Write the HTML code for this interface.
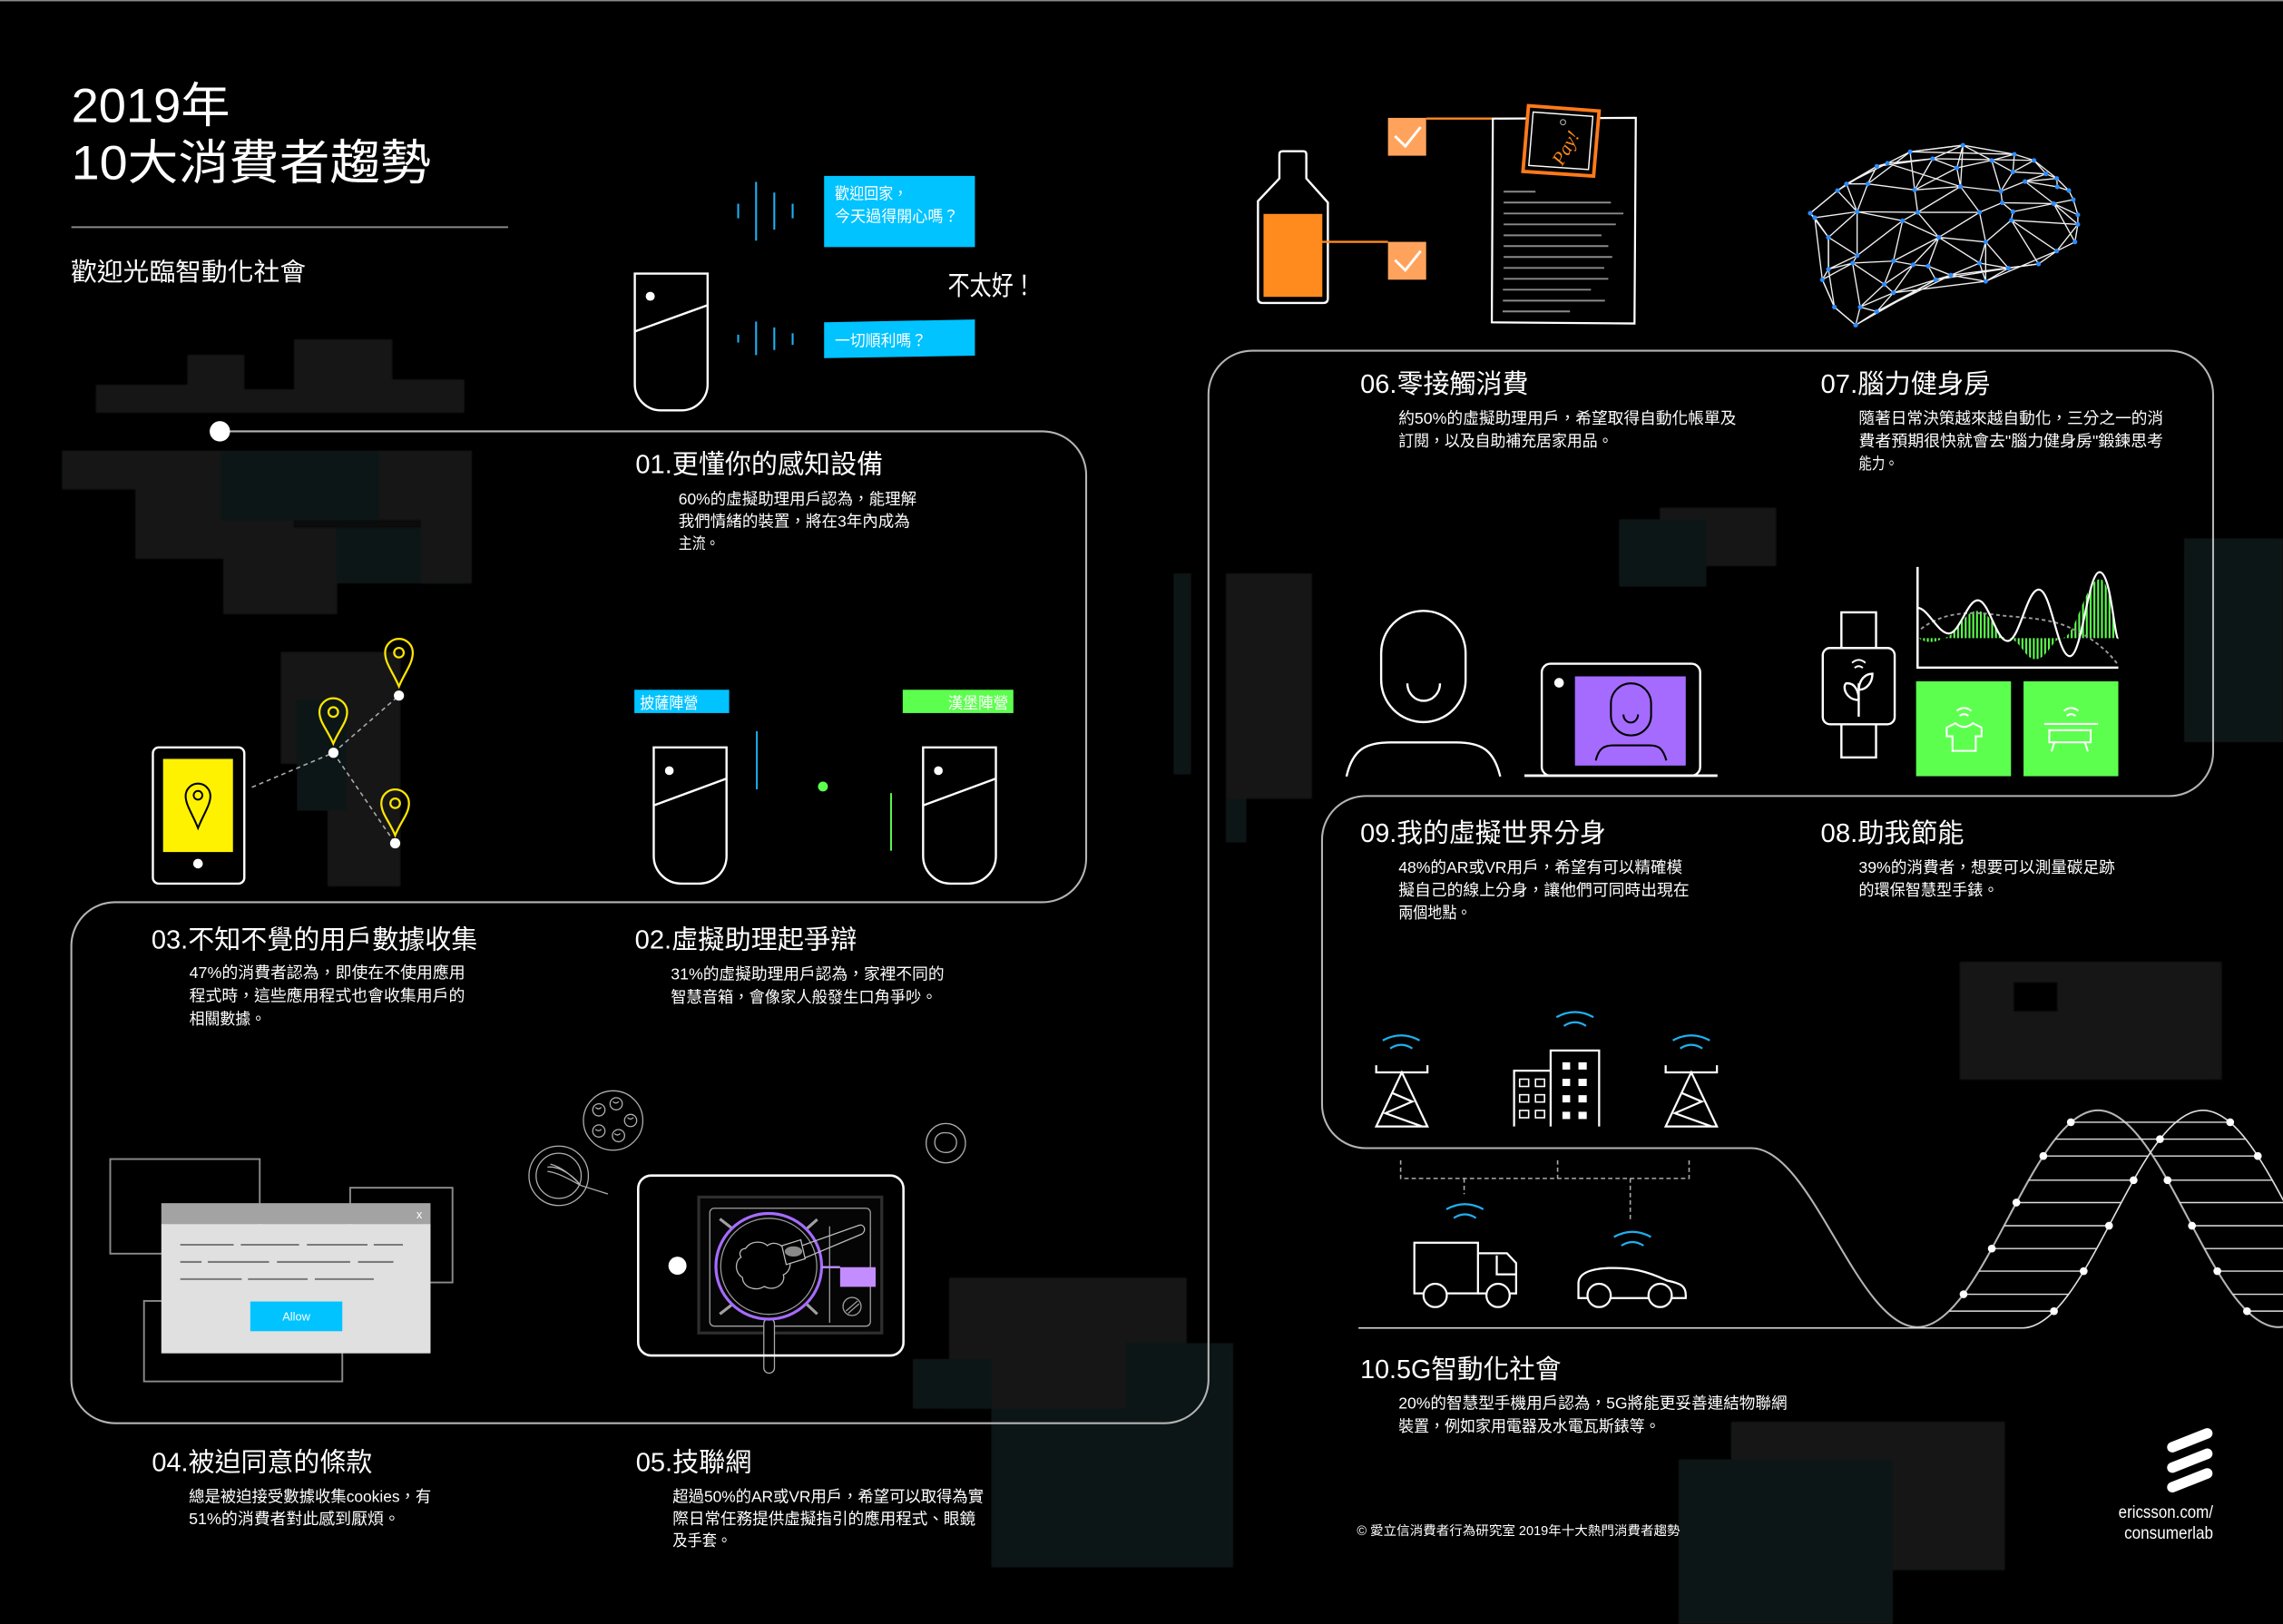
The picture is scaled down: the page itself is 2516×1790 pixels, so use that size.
<!DOCTYPE html>
<html><head><meta charset="utf-8">
<style>
html,body{margin:0;padding:0;background:#000;overflow:hidden;}
svg{display:block;}
text{font-family:"Liberation Sans","Noto Sans CJK TC",sans-serif;fill:#fff;}
</style></head><body>
<svg xmlns="http://www.w3.org/2000/svg" width="2516" height="1790" viewBox="0 0 1568 1116" preserveAspectRatio="none">
<defs>
<filter id="halo" x="-30%" y="-30%" width="160%" height="160%"><feGaussianBlur stdDeviation="5"/></filter>
<filter id="soft" x="-10%" y="-10%" width="120%" height="120%"><feGaussianBlur stdDeviation="0.6"/></filter>
<pattern id="gs" width="2.6" height="20" patternUnits="userSpaceOnUse"><rect width="1.3" height="20" fill="#5dff4f"/></pattern>
<g id="blobs">
<rect x="65.9" y="264.4" width="62.9" height="19.3"/>
<rect x="128.8" y="243.8" width="39" height="39.9"/>
<rect x="202" y="233.2" width="67.4" height="50.5"/>
<rect x="167.8" y="267.5" width="76" height="16.2"/>
<rect x="269.4" y="260.8" width="49.5" height="22.9"/>
<rect x="42.6" y="309.7" width="109" height="26.6"/>
<rect x="151.6" y="309.7" width="109" height="48"/>
<rect x="260.7" y="309.7" width="63.3" height="47.9"/>
<rect x="93" y="336.3" width="109" height="47.7"/>
<rect x="289" y="347" width="35" height="54"/>
<rect x="153.3" y="362.6" width="78.3" height="59.4"/>
<rect x="231" y="362.6" width="60" height="38.4"/>
<rect x="193" y="448" width="82" height="77"/>
<rect x="225" y="524" width="50" height="85"/>
<rect x="204" y="481" width="34" height="76"/>
<rect x="842" y="394" width="59" height="155"/>
<rect x="806" y="394" width="12" height="138"/>
<rect x="842" y="549" width="14" height="30"/>
<rect x="1140" y="349" width="80" height="40"/>
<rect x="1112" y="357" width="60" height="46"/>
<rect x="1500" y="370" width="68" height="140"/>
<rect x="1346" y="661" width="180" height="81"/>
<rect x="1189" y="977" width="188" height="102"/>
<rect x="1153" y="1003" width="147" height="113"/>
<rect x="652" y="878" width="163" height="90"/>
<rect x="627" y="934" width="54" height="34"/>
<rect x="681" y="968" width="166" height="109"/>
<rect x="773" y="923" width="74" height="60"/>
</g>
</defs>
<rect width="1568" height="1116" fill="#000"/>
<rect width="1568" height="0.9" fill="#8a8a8a"/>

<!-- background pixel blobs -->
<use href="#blobs" fill="#0c0d0d" filter="url(#halo)"/>
<g filter="url(#soft)">
<g fill="#131618">
<rect x="65.9" y="264.4" width="62.9" height="19.3"/>
<rect x="128.8" y="243.8" width="39" height="39.9"/>
<rect x="202" y="233.2" width="67.4" height="50.5"/>
<rect x="167.8" y="267.5" width="76" height="16.2"/>
<rect x="269.4" y="260.8" width="49.5" height="22.9"/>
<rect x="42.6" y="309.7" width="109" height="26.6"/>
<rect x="260.7" y="309.7" width="63.3" height="47.9"/>
<rect x="93" y="336.3" width="109" height="47.7"/>
<rect x="289" y="347" width="35" height="54"/>
<rect x="153.3" y="362.6" width="78.3" height="59.4"/>
<rect x="193" y="448" width="82" height="77"/>
<rect x="225" y="524" width="50" height="85"/>
<rect x="842" y="394" width="59" height="155"/>
<rect x="1140" y="349" width="80" height="40"/>
<rect x="1346" y="661" width="180" height="81"/>
<rect x="1189" y="977" width="188" height="102"/>
<rect x="652" y="878" width="163" height="90"/>
</g>
<g fill="#0f1213">
<rect x="151.6" y="309.7" width="109" height="48"/>
<rect x="231" y="362.6" width="58" height="38.4"/>
<rect x="204" y="481" width="34" height="76"/>
<rect x="806" y="394" width="12" height="138"/>
<rect x="842" y="549" width="14" height="30"/>
<rect x="1112" y="357" width="60" height="46"/>
<rect x="1500" y="370" width="68" height="140"/>
<rect x="1153" y="1003" width="147" height="113"/>
<rect x="627" y="934" width="54" height="34"/>
<rect x="681" y="968" width="166" height="109"/>
<rect x="773" y="923" width="74" height="60"/>
</g>
<rect x="1383" y="675" width="30" height="20" fill="#050606"/>
</g>

<!-- main outline -->
<path d="M151,296.4 H716 A30,30 0 0 1 746,326.4 V590 A30,30 0 0 1 716,620 H79 A30,30 0 0 0 49,650 V948 A30,30 0 0 0 79,978 H800 A30,30 0 0 0 830,948 V271 A30,30 0 0 1 860,241 H1490 A30,30 0 0 1 1520,271 V517 A30,30 0 0 1 1490,547 H938 A30,30 0 0 0 908,577 V759 A30,30 0 0 0 938,789 H1203 C1244.4,789 1275.6,912 1317,912 C1362.1,912 1395.9,763 1441,763 C1486.1,763 1519.9,912 1565,912 C1610,912 1644,763 1689,763" fill="none" stroke="#b4b4b4" stroke-width="1.3"/>
<circle cx="151" cy="296.4" r="7" fill="#fff"/>
<path d="M933,912.6 H1389 C1434.1,912 1467.9,763 1513,763 C1558.1,763 1591.9,912 1637,912" fill="none" stroke="#e0e0e0" stroke-width="1"/>
<g stroke="#e0e0e0" stroke-width="0.9">
<line x1="1422.3" y1="771.2" x2="1531.7" y2="771.2"/>
<line x1="1411.5" y1="782.8" x2="1542.5" y2="782.8"/>
<line x1="1403.4" y1="794.4" x2="1475.4" y2="794.4"/><line x1="1478.7" y1="794.4" x2="1550.7" y2="794.4"/>
<line x1="1393.4" y1="811" x2="1465.4" y2="811"/><line x1="1488.7" y1="811" x2="1560.7" y2="811"/>
<line x1="1384.9" y1="826.4" x2="1456.9" y2="826.4"/><line x1="1497.1" y1="826.4" x2="1568" y2="826.4"/>
<line x1="1376.5" y1="842.3" x2="1448.5" y2="842.3"/><line x1="1505.5" y1="842.3" x2="1568" y2="842.3"/>
<line x1="1368" y1="858" x2="1440" y2="858"/><line x1="1514" y1="858" x2="1568" y2="858"/>
<line x1="1359.1" y1="873.5" x2="1431.1" y2="873.5"/><line x1="1522.9" y1="873.5" x2="1568" y2="873.5"/>
<line x1="1348.6" y1="889.4" x2="1420.6" y2="889.4"/><line x1="1533.4" y1="889.4" x2="1568" y2="889.4"/>
<line x1="1338.7" y1="901" x2="1410.7" y2="901"/><line x1="1543.3" y1="901" x2="1568" y2="901"/>
</g>
<g fill="#fff">
<circle cx="1348.6" cy="889.4" r="2.7"/><circle cx="1368" cy="858" r="2.7"/><circle cx="1384.9" cy="826.4" r="2.7"/><circle cx="1403.4" cy="794.4" r="2.7"/><circle cx="1422.3" cy="771.2" r="2.7"/>
<circle cx="1410.7" cy="901" r="2.7"/><circle cx="1431.1" cy="873.5" r="2.7"/><circle cx="1448.5" cy="842.3" r="2.7"/><circle cx="1465.4" cy="811" r="2.7"/><circle cx="1483.5" cy="782.8" r="2.7"/>
<circle cx="1531.7" cy="771.2" r="2.7"/><circle cx="1550.7" cy="794.4" r="2.7"/>
<circle cx="1488.7" cy="811" r="2.7"/><circle cx="1505.5" cy="842.3" r="2.7"/><circle cx="1522.9" cy="873.5" r="2.7"/><circle cx="1543.3" cy="901" r="2.7"/>
</g>

<!-- TITLE -->
<text x="49" y="84" font-size="33" textLength="109" lengthAdjust="spacingAndGlyphs">2019年</text>
<text x="49" y="123" font-size="33" textLength="247" lengthAdjust="spacingAndGlyphs">10大消費者趨勢</text>
<rect x="49" y="155.5" width="300" height="1.2" fill="#8c8c8c"/>
<text x="48.6" y="192.5" font-size="17" textLength="161.5" lengthAdjust="spacingAndGlyphs">歡迎光臨智動化社會</text>

<!-- top speaker + bubbles -->
<path d="M436,188 H486 V264 A18,18 0 0 1 468,282 H454 A18,18 0 0 1 436,264 Z" fill="none" stroke="#fff" stroke-width="1.5"/>
<circle cx="446.6" cy="203.6" r="3.1" fill="#fff"/>
<line x1="436" y1="227.8" x2="486" y2="209.7" stroke="#fff" stroke-width="1.5"/>
<g stroke="#1fb0f0" stroke-width="1.3">
<line x1="507" y1="140" x2="507" y2="150"/><line x1="519.3" y1="125" x2="519.3" y2="165.4"/><line x1="531.8" y1="132.3" x2="531.8" y2="157.8"/><line x1="544.4" y1="140" x2="544.4" y2="150"/>
<line x1="507" y1="230" x2="507" y2="235.4"/><line x1="519.3" y1="221" x2="519.3" y2="244"/><line x1="531.8" y1="225" x2="531.8" y2="240.5"/><line x1="544.4" y1="229" x2="544.4" y2="237"/>
</g>
<rect x="566" y="120.9" width="103.6" height="48.9" fill="#00c3ff"/>
<text x="573.4" y="137" font-size="11" textLength="50" lengthAdjust="spacingAndGlyphs">歡迎回家，</text>
<text x="573.4" y="152.3" font-size="11" textLength="85" lengthAdjust="spacingAndGlyphs">今天過得開心嗎？</text>
<polygon points="566,221.5 669.6,219.5 669.6,244.4 566,246.1" fill="#00c3ff"/>
<text x="573.4" y="238" font-size="11" textLength="63" lengthAdjust="spacingAndGlyphs">一切順利嗎？</text>
<text x="651" y="202.5" font-size="18.5" textLength="60" lengthAdjust="spacingAndGlyphs">不太好！</text>

<!-- 01 -->
<text x="436.5" y="325" font-size="18" textLength="170" lengthAdjust="spacingAndGlyphs">01.更懂你的感知設備</text>
<text x="466" y="346.6" font-size="11" textLength="163.5" lengthAdjust="spacingAndGlyphs">60%的虛擬助理用戶認為，能理解</text>
<text x="466" y="362" font-size="11" textLength="159" lengthAdjust="spacingAndGlyphs">我們情緒的裝置，將在3年內成為</text>
<text x="466" y="377.3" font-size="11" textLength="28" lengthAdjust="spacingAndGlyphs">主流。</text>

<!-- phone + pins -->
<rect x="105" y="513.6" width="62.8" height="93.6" rx="4" fill="#000" stroke="#fff" stroke-width="1.5"/>
<rect x="112" y="521.5" width="48" height="64" fill="#fff200"/>
<circle cx="136" cy="593.5" r="3.3" fill="#fff"/>
<path d="M136,569 C132,559 127.5,553 127.5,547 A8.5,8.5 0 0 1 144.5,547 C144.5,553 140,559 136,569 Z" fill="none" stroke="#000" stroke-width="1.3"/>
<circle cx="136" cy="546.5" r="3" fill="none" stroke="#000" stroke-width="1.2"/>
<g stroke="#aaa" stroke-width="1" stroke-dasharray="3 2.5" fill="none">
<line x1="173" y1="541" x2="229" y2="517.3"/><line x1="229" y1="517.3" x2="274" y2="478"/><line x1="229" y1="517.3" x2="271.4" y2="579.5"/>
</g>
<g fill="none" stroke="#ffe600" stroke-width="1.4">
<path d="M274,471.7 C270,462 264.5,456 264.5,448.5 A9.5,9.5 0 0 1 283.5,448.5 C283.5,456 278,462 274,471.7 Z"/><circle cx="274" cy="448.5" r="3.3"/>
<path d="M228.9,511 C224.9,501.3 219.4,496.3 219.4,489.3 A9.5,9.5 0 0 1 238.4,489.3 C238.4,496.3 232.9,501.3 228.9,511 Z"/><circle cx="228.9" cy="489.3" r="3.3"/>
<path d="M271.4,574 C267.4,564.3 261.9,559 261.9,552 A9.5,9.5 0 0 1 280.9,552 C280.9,559 275.4,564.3 271.4,574 Z"/><circle cx="271.4" cy="552" r="3.3"/>
</g>
<g fill="#fff"><circle cx="274" cy="478" r="3.5"/><circle cx="229" cy="517.3" r="3.5"/><circle cx="271.4" cy="579.5" r="3.5"/></g>

<!-- 02 illustration -->
<rect x="435.7" y="474" width="65.1" height="16" fill="#00c3ff"/>
<text x="439.5" y="487" font-size="11" textLength="40" lengthAdjust="spacingAndGlyphs">披薩陣營</text>
<rect x="620" y="474" width="76" height="16" fill="#5dff4f"/>
<text x="651" y="487" font-size="11" textLength="41.6" lengthAdjust="spacingAndGlyphs">漢堡陣營</text>
<g fill="none" stroke="#fff" stroke-width="1.5">
<path d="M449,513.6 H499 V588 A19,19 0 0 1 480,607.2 H468 A19,19 0 0 1 449,588 Z"/>
<line x1="449" y1="553.5" x2="499" y2="535"/>
<path d="M634,513.6 H684 V588 A19,19 0 0 1 665,607.2 H653 A19,19 0 0 1 634,588 Z"/>
<line x1="634" y1="553.5" x2="684" y2="535"/>
</g>
<circle cx="459.7" cy="529.6" r="3" fill="#fff"/>
<circle cx="644.5" cy="529.6" r="3" fill="#fff"/>
<line x1="519.8" y1="502.5" x2="519.8" y2="542.4" stroke="#1fb0f0" stroke-width="1.2"/>
<circle cx="565.2" cy="540.5" r="3.4" fill="#5dff4f"/>
<line x1="612" y1="545" x2="612" y2="584.6" stroke="#5dff4f" stroke-width="1.2"/>

<!-- 03 / 02 texts -->
<text x="104" y="651.8" font-size="18" textLength="224" lengthAdjust="spacingAndGlyphs">03.不知不覺的用戶數據收集</text>
<text x="130" y="672" font-size="11" textLength="189.5" lengthAdjust="spacingAndGlyphs">47%的消費者認為，即使在不使用應用</text>
<text x="130" y="688" font-size="11" textLength="189.3" lengthAdjust="spacingAndGlyphs">程式時，這些應用程式也會收集用戶的</text>
<text x="130" y="704" font-size="11" textLength="52.6" lengthAdjust="spacingAndGlyphs">相關數據。</text>
<text x="436" y="651.8" font-size="18" textLength="152.5" lengthAdjust="spacingAndGlyphs">02.虛擬助理起爭辯</text>
<text x="460.7" y="673" font-size="11" textLength="187.8" lengthAdjust="spacingAndGlyphs">31%的虛擬助理用戶認為，家裡不同的</text>
<text x="460.7" y="689" font-size="11" textLength="182.9" lengthAdjust="spacingAndGlyphs">智慧音箱，會像家人般發生口角爭吵。</text>

<!-- 04 dialog -->
<g fill="none" stroke="#8a8a8a" stroke-width="1.2">
<rect x="75.7" y="796.5" width="102.7" height="65"/>
<rect x="240.5" y="816.2" width="70.3" height="65.1"/>
<rect x="98.9" y="894" width="136.2" height="55.3"/>
</g>
<rect x="110.8" y="826.8" width="184.9" height="14.3" fill="#a3a3a3"/>
<rect x="110.8" y="841.1" width="184.9" height="88.9" fill="#e0e0e0"/>
<text x="286" y="837.2" font-size="8">x</text>
<g stroke="#7a7a7a" stroke-width="1.3">
<line x1="123.8" y1="855.4" x2="160.5" y2="855.4"/><line x1="165.4" y1="855.4" x2="205.4" y2="855.4"/><line x1="210.8" y1="855.4" x2="252.4" y2="855.4"/><line x1="256.7" y1="855.4" x2="276.7" y2="855.4"/>
<line x1="123.8" y1="867.2" x2="138.4" y2="867.2"/><line x1="142.7" y1="867.2" x2="184.8" y2="867.2"/><line x1="190.2" y1="867.2" x2="240.5" y2="867.2"/><line x1="245.9" y1="867.2" x2="270.2" y2="867.2"/>
<line x1="123.8" y1="879" x2="166" y2="879"/><line x1="170.3" y1="879" x2="211.3" y2="879"/><line x1="216.2" y1="879" x2="256.7" y2="879"/>
</g>
<rect x="171.9" y="894.4" width="63.2" height="20.4" fill="#00c3ff"/>
<text x="203.5" y="907.5" font-size="8" text-anchor="middle">Allow</text>

<!-- 05 cooking -->
<g fill="none" stroke="#b0b0b0" stroke-width="0.8">
<circle cx="421.1" cy="770" r="20.4"/>
<circle cx="411.3" cy="762.7" r="4.2"/><circle cx="423.2" cy="758.5" r="4.2"/><circle cx="433.1" cy="770" r="4.2"/><circle cx="411.3" cy="777.2" r="4.2"/><circle cx="424.8" cy="780.4" r="4.2"/>
<path d="M409,761 q2,2 4,0 M421,757 q2,2 4,0 M431,768 q2,2 4,0 M409,776 q2,2 4,0 M422,779 q2,2 4,0"/>
<circle cx="383.7" cy="808" r="20.4"/>
<circle cx="383.7" cy="808" r="15.5"/>
<path d="M376,802 C384,801 394,808 398.8,814.6 M376,805 C384,806 392,811 398.8,814.6 M378,800 C386,802 394,809 398.8,814.6 M398.8,814.6 L417.5,820.5"/>
<circle cx="649.6" cy="785.6" r="13.5"/>
<path d="M642,785 C642,780 646,778 650,778.5 C654,778.5 657,781 657,785 C657,789 654,792 650,792 C646,792 642,790 642,785 Z"/>
</g>
<rect x="438.3" y="807.8" width="182.2" height="123.7" rx="9" fill="#000"/>
<rect x="479.9" y="822.6" width="125.7" height="93.4" fill="#050505" stroke="#2e2e2e" stroke-width="2"/>
<g fill="none" stroke="#a0a0a0" stroke-width="0.8">
<rect x="487.5" y="830.3" width="110.3" height="81" rx="3"/>
<line x1="569.8" y1="842.7" x2="569.8" y2="909"/>
<line x1="494.4" y1="837.6" x2="503.7" y2="844.8" stroke-width="2"/>
<line x1="561.3" y1="838" x2="553.6" y2="844.8" stroke-width="2"/>
<line x1="494.4" y1="903" x2="503.7" y2="895.8" stroke-width="2"/>
<line x1="561.3" y1="903" x2="553.6" y2="895.8" stroke-width="2"/>
<circle cx="585.2" cy="897.8" r="6.2"/>
<line x1="581" y1="901" x2="589" y2="894"/><line x1="582.5" y1="902.5" x2="590" y2="896"/>
</g>
<rect x="524.6" y="906" width="7.3" height="37.6" rx="3.6" fill="#000" stroke="#aaa" stroke-width="0.8"/>
<circle cx="528" cy="870.2" r="36.3" fill="#000" stroke="#a66bff" stroke-width="2"/>
<circle cx="528" cy="870.2" r="33" fill="none" stroke="#999" stroke-width="0.8"/>
<path d="M512,858 C516,852 524,853 527,856 C532,852 540,856 539,862 C545,866 543,874 538,876 C540,882 532,888 525,884 C518,888 510,884 510,878 C504,874 505,866 509,864 C507,861 509,858 512,858 Z" fill="none" stroke="#bbb" stroke-width="0.8"/>
<path d="M545,858 L590,842 C594,841 595,846 592,848 L549,866" fill="none" stroke="#bbb" stroke-width="0.8"/>
<path d="M537,856 L550,852 L553,865 L540,869 Z" fill="#000" stroke="#bbb" stroke-width="0.8"/>
<ellipse cx="545" cy="860" rx="6" ry="3.5" fill="#888"/>
<line x1="564.5" y1="870.8" x2="577" y2="870.8" stroke="#c38dff" stroke-width="1.5"/>
<rect x="577" y="870.8" width="24.4" height="13.5" fill="#c38dff"/>
<rect x="438.3" y="807.8" width="182.2" height="123.7" rx="9" fill="none" stroke="#fff" stroke-width="1.6"/>
<circle cx="465.3" cy="869.8" r="6.2" fill="#fff"/>

<!-- 04 / 05 texts -->
<text x="104.3" y="1011" font-size="18" textLength="151.4" lengthAdjust="spacingAndGlyphs">04.被迫同意的條款</text>
<text x="129.7" y="1032" font-size="11" textLength="166.5" lengthAdjust="spacingAndGlyphs">總是被迫接受數據收集cookies，有</text>
<text x="129.7" y="1047.3" font-size="11" textLength="145" lengthAdjust="spacingAndGlyphs">51%的消費者對此感到厭煩。</text>
<text x="436.7" y="1011" font-size="18" textLength="79.5" lengthAdjust="spacingAndGlyphs">05.技聯網</text>
<text x="462" y="1032" font-size="11" textLength="213.6" lengthAdjust="spacingAndGlyphs">超過50%的AR或VR用戶，希望可以取得為實</text>
<text x="462" y="1047.3" font-size="11" textLength="208" lengthAdjust="spacingAndGlyphs">際日常任務提供虛擬指引的應用程式、眼鏡</text>
<text x="462" y="1062.5" font-size="11" textLength="40.5" lengthAdjust="spacingAndGlyphs">及手套。</text>

<!-- bottle, checkboxes, document -->
<path d="M878.7,122.6 V106 Q878.7,103.9 881,103.9 H895 Q897.2,103.9 897.2,106 V122.6 L912,139.2 V205 Q912,208.2 909,208.2 H867 Q864,208.2 864,205 V138.2 Z" fill="none" stroke="#fff" stroke-width="1.5"/>
<rect x="867.8" y="147" width="40.4" height="57" fill="#ff8a1e"/>
<line x1="908" y1="166.2" x2="953.3" y2="166.2" stroke="#ff8a1e" stroke-width="1.5"/>
<line x1="979.5" y1="81.5" x2="1048.4" y2="81.5" stroke="#ff8a1e" stroke-width="1.5"/>
<rect x="953.3" y="81" width="26.2" height="26" fill="#ffa35c"/>
<rect x="953.3" y="166.2" width="26.2" height="26" fill="#ffa35c"/>
<polyline points="958.1,93.5 965.2,100.5 975.7,87.3" fill="none" stroke="#fff" stroke-width="1.8"/>
<polyline points="958.1,178.7 965.2,185.7 975.7,172.5" fill="none" stroke="#fff" stroke-width="1.8"/>
<polygon points="1025.3,81.5 1123.5,81 1122.6,222.3 1024.6,221.5" fill="#000" stroke="#fff" stroke-width="1.4"/>
<g stroke="#8a8a8a" stroke-width="1.2">
<line x1="1032.7" y1="131.7" x2="1054.6" y2="131.7"/><line x1="1032.7" y1="139.2" x2="1106.4" y2="139.2"/><line x1="1032.7" y1="146.7" x2="1115" y2="146.7"/><line x1="1032.7" y1="154.2" x2="1109.8" y2="154.2"/><line x1="1032.7" y1="161.7" x2="1099.9" y2="161.7"/><line x1="1032.7" y1="169.1" x2="1104.6" y2="169.1"/><line x1="1032.7" y1="176.6" x2="1107.3" y2="176.6"/><line x1="1032.7" y1="184.1" x2="1101.8" y2="184.1"/><line x1="1032.7" y1="191.6" x2="1104.6" y2="191.6"/><line x1="1032.2" y1="199.1" x2="1092.7" y2="199.1"/><line x1="1032.2" y1="206.6" x2="1102.3" y2="206.6"/><line x1="1032" y1="214" x2="1078.3" y2="214"/>
</g>
<polygon points="1049.8,72.7 1098.3,76.3 1094.5,121 1046,117.8" fill="#000" stroke="#ff7a1a" stroke-width="2.4"/>
<polygon points="1053,77 1094,80 1091,116.5 1050,113.7" fill="none" stroke="#fff" stroke-width="0.9"/>
<circle cx="1073.5" cy="84" r="1.8" fill="none" stroke="#aaa" stroke-width="0.7"/>
<text x="1060" y="108" font-size="13" font-style="italic" style="font-family:'Liberation Serif',serif;fill:#ff8a1e" transform="rotate(-60 1072 100)">Pay!</text>

<!-- brain mesh -->
<g fill="none" stroke="#f0f0f0" stroke-width="0.85" stroke-linejoin="round">
<polygon points="1243.3,146.5 1262,131 1268.2,126.4 1289,114.3 1296.3,112.2 1311.9,104.3 1348.2,99.8 1383.5,106 1397,110.2 1412.6,122.6 1420.9,131 1424,137.2 1427.1,147.6 1427.1,154.2 1425.1,166.3 1412.6,172.5 1400.1,181.4 1379.4,184.3 1363.8,193.3 1339.9,189.1 1329.5,192.2 1300.4,201.2 1289,214.1 1274.5,223.4 1259.9,211 1251.6,192.2 1255.8,185 1255.8,163.1 1246.4,149.6"/>
<path d="M1268.2,126.4 L1296.3,112.2 M1282.8,126.4 L1311.9,104.3 M1289,114.3 L1327.4,109.1 M1296.3,112.2 L1327.4,109.1 M1311.9,104.3 L1348.2,99.8 M1327.4,109.1 L1348.2,99.8 M1327.4,109.1 L1344,115.4 M1344,115.4 L1348.2,99.8 M1344,115.4 L1367.9,110.2 M1367.9,110.2 L1348.2,99.8 M1367.9,110.2 L1383.5,106 M1367.9,110.2 L1382.5,118.1 M1383.5,106 L1382.5,118.1 M1382.5,118.1 L1397,110.2 M1382.5,118.1 L1405.3,119.5 M1405.3,119.5 L1412.6,122.6 M1405.3,119.5 L1390.8,124.7 M1397,110.2 L1405.3,119.5 M1390.8,124.7 L1412.6,122.6 M1390.8,124.7 L1413,128.4 M1413,128.4 L1420.9,131 M1412.6,122.6 L1413,128.4 M1282.8,126.4 L1289,114.3 M1282.8,126.4 L1268.2,126.4 M1282.8,126.4 L1315,130.5 M1315,130.5 L1311.9,104.3 M1315,130.5 L1327.4,109.1 M1315,130.5 L1344,115.4 M1315,130.5 L1346.5,128.2 M1346.5,128.2 L1344,115.4 M1346.5,128.2 L1374.2,131.4 M1374.2,131.4 L1367.9,110.2 M1374.2,131.4 L1382.5,118.1 M1374.2,131.4 L1390.8,124.7 M1346.5,128.2 L1348.2,99.8 M1282.8,126.4 L1275.5,145.5 M1262,131 L1275.5,145.5 M1268.2,126.4 L1275.5,145.5 M1262,131 L1243.3,146.5 M1246.4,149.6 L1275.5,145.5 M1275.5,145.5 L1306.7,151.7 M1275.5,145.5 L1317.1,145.9 M1315,130.5 L1317.1,145.9 M1317.1,145.9 L1306.7,151.7 M1317.1,145.9 L1359.6,145.9 M1346.5,128.2 L1359.6,145.9 M1346.5,128.2 L1317.1,145.9 M1359.6,145.9 L1375.2,139.3 M1374.2,131.4 L1375.2,139.3 M1375.2,139.3 L1382.5,145.5 M1382.5,145.5 L1381.4,151.3 M1375.2,139.3 L1410.5,139.9 M1390.8,124.7 L1410.5,139.9 M1410.5,139.9 L1424,137.2 M1410.5,139.9 L1427.1,147.6 M1382.5,145.5 L1410.5,139.9 M1410.5,139.9 L1427.1,154.2 M1381.4,151.3 L1427.1,154.2 M1381.4,151.3 L1363.8,166.3 M1359.6,145.9 L1331.6,163.1 M1359.6,145.9 L1363.8,166.3 M1306.7,151.7 L1331.6,163.1 M1317.1,145.9 L1331.6,163.1 M1331.6,163.1 L1363.8,166.3 M1331.6,163.1 L1300.4,179.4 M1331.6,163.1 L1314,181.9 M1331.6,163.1 L1324.3,182.9 M1331.6,163.1 L1359.6,180.8 M1363.8,166.3 L1359.6,180.8 M1363.8,166.3 L1379.4,184.3 M1381.4,151.3 L1400.1,181.4 M1381.4,151.3 L1412.6,172.5 M1427.1,154.2 L1412.6,172.5 M1425.1,166.3 L1410.5,139.9 M1275.5,145.5 L1255.8,163.1 M1275.5,145.5 L1275.5,175.6 M1255.8,163.1 L1275.5,175.6 M1306.7,151.7 L1275.5,175.6 M1306.7,151.7 L1300.4,179.4 M1275.5,175.6 L1272.4,180.8 M1272.4,180.8 L1300.4,179.4 M1300.4,179.4 L1314,181.9 M1314,181.9 L1324.3,182.9 M1324.3,182.9 L1339.9,189.1 M1359.6,180.8 L1339.9,189.1 M1359.6,180.8 L1363.8,193.3 M1359.6,180.8 L1379.4,184.3 M1363.8,166.3 L1363.8,193.3 M1255.8,163.1 L1255.8,185 M1275.5,175.6 L1255.8,185 M1272.4,180.8 L1255.8,185 M1272.4,180.8 L1251.6,192.2 M1272.4,180.8 L1294.2,195.4 M1300.4,179.4 L1294.2,195.4 M1314,181.9 L1294.2,195.4 M1294.2,195.4 L1300.4,201.2 M1314,181.9 L1300.4,201.2 M1324.3,182.9 L1329.5,192.2 M1294.2,195.4 L1277.6,211 M1251.6,192.2 L1259.9,211 M1255.8,185 L1259.9,211 M1272.4,180.8 L1277.6,211 M1277.6,211 L1289,214.1 M1277.6,211 L1274.5,223.4 M1259.9,211 L1274.5,223.4 M1300.4,201.2 L1277.6,211 M1329.5,192.2 L1289,214.1 M1300.4,201.2 L1363.8,193.3 M1289,214.1 L1339.9,189.1 M1274.5,223.4 L1329.5,192.2 M1329.5,192.2 L1379.4,184.3 M1339.9,189.1 L1400.1,181.4 M1363.8,193.3 L1412.6,172.5 M1243.3,146.5 L1255.8,163.1 M1246.4,149.6 L1251.6,192.2 M1262,131 L1289,114.3 M1311.9,104.3 L1383.5,106 M1327.4,109.1 L1397,110.2 M1296.3,112.2 L1346.5,128.2"/>
</g>
<g fill="#2b8cff">
<circle cx="1348.2" cy="99.8" r="1.6"/><circle cx="1311.9" cy="104.3" r="1.6"/><circle cx="1327.4" cy="109.1" r="1.6"/><circle cx="1383.5" cy="106" r="1.6"/><circle cx="1397" cy="110.2" r="1.6"/><circle cx="1367.9" cy="110.2" r="1.6"/><circle cx="1296.3" cy="112.2" r="1.6"/><circle cx="1289" cy="114.3" r="1.6"/><circle cx="1344" cy="115.4" r="1.6"/><circle cx="1382.5" cy="118.1" r="1.6"/><circle cx="1405.3" cy="119.5" r="1.6"/><circle cx="1412.6" cy="122.6" r="1.6"/><circle cx="1268.2" cy="126.4" r="1.6"/><circle cx="1282.8" cy="126.4" r="1.6"/><circle cx="1262" cy="131" r="1.6"/><circle cx="1315" cy="130.5" r="1.6"/><circle cx="1346.5" cy="128.2" r="1.6"/><circle cx="1374.2" cy="131.4" r="1.6"/><circle cx="1390.8" cy="124.7" r="1.6"/><circle cx="1413" cy="128.4" r="1.6"/><circle cx="1420.9" cy="131" r="1.6"/><circle cx="1424" cy="137.2" r="1.6"/><circle cx="1427.1" cy="147.6" r="1.6"/><circle cx="1427.1" cy="154.2" r="1.6"/><circle cx="1243.3" cy="146.5" r="1.6"/><circle cx="1275.5" cy="145.5" r="1.6"/><circle cx="1306.7" cy="151.7" r="1.6"/><circle cx="1317.1" cy="145.9" r="1.6"/><circle cx="1359.6" cy="145.9" r="1.6"/><circle cx="1375.2" cy="139.3" r="1.6"/><circle cx="1382.5" cy="145.5" r="1.6"/><circle cx="1381.4" cy="151.3" r="1.6"/><circle cx="1410.5" cy="139.9" r="1.6"/><circle cx="1255.8" cy="163.1" r="1.6"/><circle cx="1331.6" cy="163.1" r="1.6"/><circle cx="1363.8" cy="166.3" r="1.6"/><circle cx="1425.1" cy="166.3" r="1.6"/><circle cx="1412.6" cy="172.5" r="1.6"/><circle cx="1275.5" cy="175.6" r="1.6"/><circle cx="1272.4" cy="180.8" r="1.6"/><circle cx="1300.4" cy="179.4" r="1.6"/><circle cx="1314" cy="181.9" r="1.6"/><circle cx="1324.3" cy="182.9" r="1.6"/><circle cx="1359.6" cy="180.8" r="1.6"/><circle cx="1379.4" cy="184.3" r="1.6"/><circle cx="1400.1" cy="181.4" r="1.6"/><circle cx="1255.8" cy="185" r="1.6"/><circle cx="1251.6" cy="192.2" r="1.6"/><circle cx="1294.2" cy="195.4" r="1.6"/><circle cx="1300.4" cy="201.2" r="1.6"/><circle cx="1329.5" cy="192.2" r="1.6"/><circle cx="1339.9" cy="189.1" r="1.6"/><circle cx="1363.8" cy="193.3" r="1.6"/><circle cx="1259.9" cy="211" r="1.6"/><circle cx="1277.6" cy="211" r="1.6"/><circle cx="1289" cy="214.1" r="1.6"/><circle cx="1274.5" cy="223.4" r="1.6"/><circle cx="1246.4" cy="149.6" r="1.6"/>
</g>

<!-- 06 / 07 texts -->
<text x="934.3" y="270" font-size="18" textLength="115.5" lengthAdjust="spacingAndGlyphs">06.零接觸消費</text>
<text x="960.5" y="291.2" font-size="11" textLength="232" lengthAdjust="spacingAndGlyphs">約50%的虛擬助理用戶，希望取得自動化帳單及</text>
<text x="960.5" y="306.8" font-size="11" textLength="147.3" lengthAdjust="spacingAndGlyphs">訂閱，以及自助補充居家用品。</text>
<text x="1250.5" y="270" font-size="18" textLength="116.5" lengthAdjust="spacingAndGlyphs">07.腦力健身房</text>
<text x="1276.6" y="291.2" font-size="11" textLength="209.2" lengthAdjust="spacingAndGlyphs">隨著日常決策越來越自動化，三分之一的消</text>
<text x="1276.6" y="306.8" font-size="11" textLength="209.2" lengthAdjust="spacingAndGlyphs">費者預期很快就會去"腦力健身房"鍛鍊思考</text>
<text x="1276.6" y="322.3" font-size="11" textLength="27" lengthAdjust="spacingAndGlyphs">能力。</text>

<!-- person + laptop -->
<g fill="none" stroke="#fff" stroke-width="1.5">
<rect x="948.6" y="419.8" width="58" height="76.4" rx="29"/>
<path d="M966.6,469.6 A11.2,12 0 0 0 989,469.6"/>
<path d="M924.8,533.6 C929,515 938,510.2 955,510.2 H1000 C1017,510.2 1026,515 1030.4,533.6"/>
<rect x="1058.9" y="456.1" width="108.8" height="76.9" rx="6"/>
</g>
<line x1="1047" y1="533" x2="1179.6" y2="533" stroke="#fff" stroke-width="1.8"/>
<rect x="1081.7" y="464.8" width="76.1" height="61.3" fill="#a56bff"/>
<circle cx="1070.8" cy="469.2" r="3.3" fill="#fff"/>
<g fill="none" stroke="#000" stroke-width="1.3">
<rect x="1106.4" y="469.6" width="27.6" height="35.8" rx="13.8"/>
<path d="M1115,491 A5,5.5 0 0 0 1125,491"/>
<path d="M1096,522.6 C1098,514 1102,512.2 1108,512.2 H1133 C1139,512.2 1142,514 1144.5,522.6"/>
</g>

<!-- watch -->
<g fill="none" stroke="#fff" stroke-width="1.5">
<rect x="1264.7" y="420.8" width="23.8" height="24.9"/>
<rect x="1264.7" y="497.7" width="23.8" height="22.8"/>
<rect x="1251.9" y="445.3" width="49.4" height="52.4" rx="5" fill="#000"/>
<path d="M1276.6,469.6 V492.5"/>
<path d="M1276.6,481 C1268,481 1265,472 1268,469.6 C1274,469 1276.6,475 1276.6,481"/>
<path d="M1276.6,474 C1277,467 1281,463 1286,463 C1286,469 1282,474 1276.6,474"/>
<path d="M1272,455.5 Q1276.6,451.5 1281.2,455.5" stroke-width="1.2"/>
<path d="M1273.8,459 Q1276.6,456.5 1279.4,459" stroke-width="1.2"/>
</g>

<!-- chart -->
<path d="M1334,438.5 C1344,438.5 1348,419.8 1358,419.8 C1368,419.8 1372,438.5 1378,438.5 Z" fill="url(#gs)"/>
<path d="M1318,438.5 C1322,442 1330,442 1334,438.5 Z" fill="url(#gs)"/>
<path d="M1378,438.5 C1388,438.5 1390,453 1398,453 C1406,453 1410,438.5 1416,438.5 Z" fill="url(#gs)"/>
<path d="M1416,438.5 C1426,438.5 1432,399 1442,398 C1450,397 1452,438.5 1455,438.5 Z" fill="url(#gs)"/>
<path d="M1319.4,432.2 C1335,420 1355,420 1374,422.9 C1395,425 1410,425 1425,433 C1440,440 1450,450 1454.9,457.2" fill="none" stroke="#9a9a9a" stroke-width="1.2" stroke-dasharray="2.5 2"/>
<path d="M1317,417.7 C1324,417.7 1331,435.3 1338.4,435.3 C1346,435.3 1351,412.5 1358.4,412.5 C1366,412.5 1371,440.5 1378.8,440.5 C1387,440.5 1392,405.2 1400.2,405.2 C1409,405.2 1413,450.9 1421.6,450.9 C1430,450.9 1434,393.2 1442,393.2 C1450,393.2 1452,438.5 1454.9,438.5" fill="none" stroke="#fff" stroke-width="1.4"/>
<path d="M1317,389.6 V458.8 H1454.9" fill="none" stroke="#fff" stroke-width="1.6"/>
<rect x="1316" y="468.2" width="65.2" height="65.2" fill="#5dff4f"/>
<rect x="1389.8" y="468.2" width="65.1" height="65.2" fill="#5dff4f"/>
<g fill="none" stroke="#fff" stroke-width="1.3">
<path d="M1343,497 L1337,500 L1337,506 L1341,506 L1341,516 L1357,516 L1357,506 L1361,506 L1361,500 L1355,497 Q1349,502 1343,497 Z"/>
<path d="M1344,488.5 Q1349,484.5 1354,488.5"/><path d="M1346,492 Q1349,489.5 1352,492"/>
<path d="M1404,497.5 H1441"/>
<rect x="1407.5" y="501.8" width="28.4" height="8.3"/>
<path d="M1411,510 L1409,516.4 M1432,510 L1434,516.4"/>
<path d="M1417.5,488.5 Q1422.5,484.5 1427.5,488.5"/><path d="M1419.5,492 Q1422.5,489.5 1425.5,492"/>
</g>

<!-- 09 / 08 texts -->
<text x="934.3" y="578.6" font-size="18" textLength="168.7" lengthAdjust="spacingAndGlyphs">09.我的虛擬世界分身</text>
<text x="960.5" y="599.7" font-size="11" textLength="195" lengthAdjust="spacingAndGlyphs">48%的AR或VR用戶，希望有可以精確模</text>
<text x="960.5" y="615.3" font-size="11" textLength="199.7" lengthAdjust="spacingAndGlyphs">擬自己的線上分身，讓他們可同時出現在</text>
<text x="960.5" y="631" font-size="11" textLength="50" lengthAdjust="spacingAndGlyphs">兩個地點。</text>
<text x="1250.5" y="578.6" font-size="18" textLength="98.4" lengthAdjust="spacingAndGlyphs">08.助我節能</text>
<text x="1276.6" y="599.7" font-size="11" textLength="176" lengthAdjust="spacingAndGlyphs">39%的消費者，想要可以測量碳足跡</text>
<text x="1276.6" y="615.3" font-size="11" textLength="96" lengthAdjust="spacingAndGlyphs">的環保智慧型手錶。</text>

<!-- towers / building -->
<g fill="none" stroke="#fff" stroke-width="1.4">
<path d="M945.2,732 V736.9 H980.4 V732 M962.8,736.9 L945.2,774.1 H980.4 Z M956,751 L970,757 L951.5,765 L976.5,774"/>
<path d="M1144,732 V736.9 H1179.2 V732 M1161.6,736.9 L1144,774.1 H1179.2 Z M1154.8,751 L1168.8,757 L1150.3,765 L1175.3,774"/>
<path d="M1039.9,774.1 V735.8 H1065 M1065,774.1 V721.9 H1098.3 V774.1"/>
<rect x="1043.7" y="741.6" width="6.2" height="5" stroke-width="1"/><rect x="1054.6" y="741.6" width="6.2" height="5" stroke-width="1"/>
<rect x="1043.7" y="752.3" width="6.2" height="5" stroke-width="1"/><rect x="1054.6" y="752.3" width="6.2" height="5" stroke-width="1"/>
<rect x="1043.7" y="763.1" width="6.2" height="5" stroke-width="1"/><rect x="1054.6" y="763.1" width="6.2" height="5" stroke-width="1"/>
</g>
<g fill="#fff">
<rect x="1073.1" y="730" width="5.3" height="5"/><rect x="1084.1" y="730" width="5.7" height="5"/>
<rect x="1073.1" y="741.3" width="5.3" height="5"/><rect x="1084.1" y="741.3" width="5.7" height="5"/>
<rect x="1073.1" y="752.6" width="5.3" height="5"/><rect x="1084.1" y="752.6" width="5.7" height="5"/>
<rect x="1073.1" y="764" width="5.3" height="5"/><rect x="1084.1" y="764" width="5.7" height="5"/>
</g>
<g fill="none" stroke="#1fb0f0" stroke-width="1.4">
<path d="M949.7,715 Q962.4,708 975,715"/><path d="M954.8,720.5 Q962.4,715.5 970,720.5"/>
<path d="M1148.9,715 Q1161.6,708 1174.3,715"/><path d="M1154,720.5 Q1161.6,715.5 1169.2,720.5"/>
<path d="M1069,699 Q1081.7,692 1094.4,699"/><path d="M1074.1,705 Q1081.7,700 1089.3,705"/>
<path d="M993.4,831 Q1006.1,824 1018.8,831"/><path d="M998.5,837 Q1006.1,832 1013.7,837"/>
<path d="M1108.5,850 Q1121.2,843 1133.9,850"/><path d="M1113.6,856 Q1121.2,851 1128.8,856"/>
</g>
<g fill="none" stroke="#aaa" stroke-width="1" stroke-dasharray="3 2">
<path d="M962,797.3 V809.8 H1160.1 V797.3 M1069.8,797.3 V809.8 M1005.6,809.8 V820.6 M1119.7,809.8 V838"/>
</g>
<!-- truck & car -->
<g fill="none" stroke="#fff" stroke-width="1.4">
<rect x="971.4" y="854" width="43.7" height="34.8"/>
<path d="M1015.1,861.2 H1035 L1041.3,868 V888.8 H1015.1"/>
<path d="M1028,862.7 V875.7 H1041.3"/>
<circle cx="985.7" cy="890.2" r="8" fill="#000"/>
<circle cx="1028.9" cy="890.2" r="8" fill="#000"/>
<path d="M1084.1,892 V882 C1084.1,876 1090,872 1105,871.4 C1120,871 1130,873 1145,880 C1155,882 1157.8,884 1157.8,890 V892 Z"/>
<circle cx="1098.3" cy="890.2" r="8" fill="#000"/>
<circle cx="1140.2" cy="890.2" r="8" fill="#000"/>
</g>

<!-- 10 texts -->
<text x="934.3" y="947" font-size="18" textLength="138" lengthAdjust="spacingAndGlyphs">10.5G智動化社會</text>
<text x="960.5" y="967.8" font-size="11" textLength="267" lengthAdjust="spacingAndGlyphs">20%的智慧型手機用戶認為，5G將能更妥善連結物聯網</text>
<text x="960.5" y="983.8" font-size="11" textLength="179.7" lengthAdjust="spacingAndGlyphs">裝置，例如家用電器及水電瓦斯錶等。</text>
<text x="931.9" y="1055" font-size="9" textLength="222" lengthAdjust="spacingAndGlyphs">© 愛立信消費者行為研究室 2019年十大熱門消費者趨勢</text>

<!-- Ericsson logo -->
<g stroke="#fff" stroke-width="7.2" stroke-linecap="round">
<line x1="1492" y1="994.5" x2="1516" y2="985"/>
<line x1="1492" y1="1008.5" x2="1516" y2="999"/>
<line x1="1492" y1="1022" x2="1516" y2="1012.5"/>
</g>
<text x="1520" y="1043" font-size="12" text-anchor="end" textLength="65" lengthAdjust="spacingAndGlyphs">ericsson.com/</text>
<text x="1520" y="1057.5" font-size="12" text-anchor="end" textLength="61" lengthAdjust="spacingAndGlyphs">consumerlab</text>
</svg>
</body></html>
